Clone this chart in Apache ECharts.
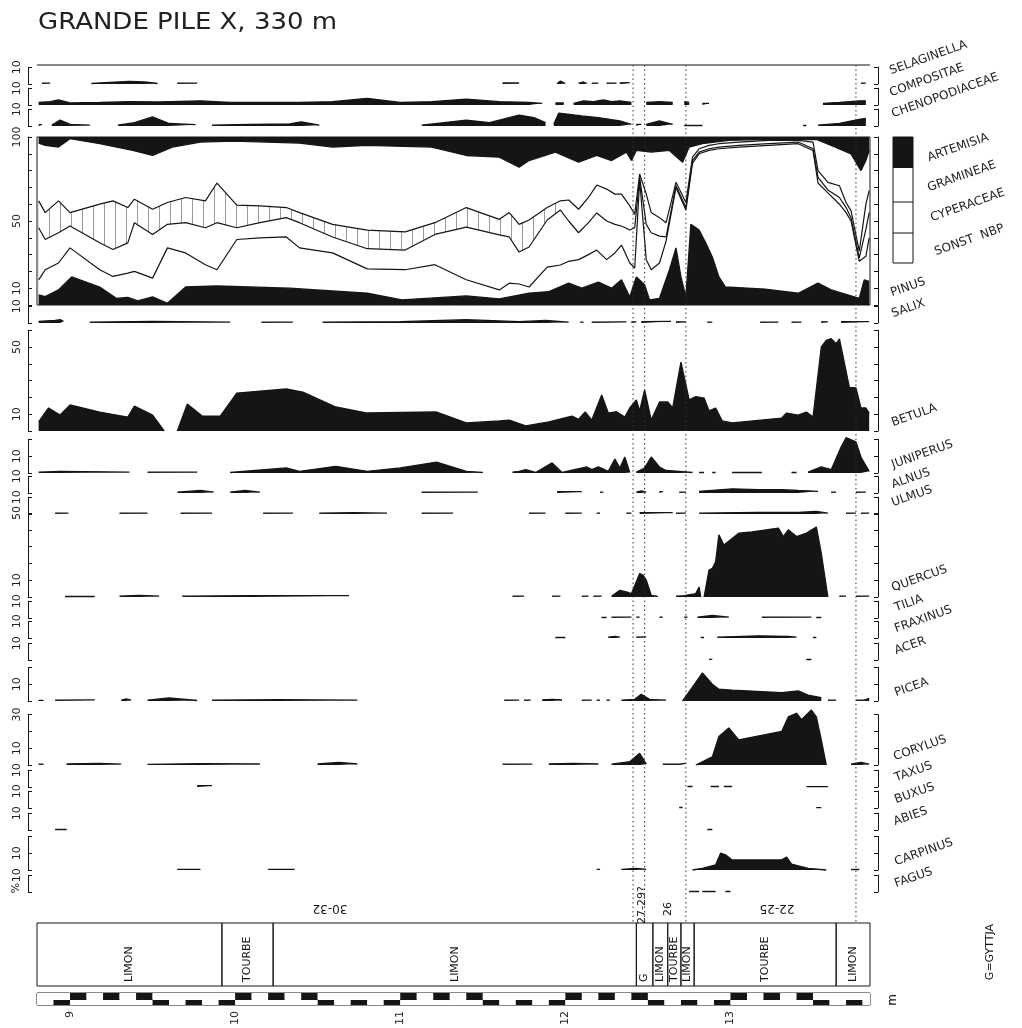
<!DOCTYPE html>
<html><head><meta charset="utf-8">
<script src="https://cdn.jsdelivr.net/npm/echarts@6/dist/echarts.min.js"></script>
<style>html,body{margin:0;padding:0;background:#fff}#c{width:1022px;height:1028px}</style>
</head><body><div id="c"></div>
<script>
// ---------------- DATA (depth in m, value in %) ----------------
const selaginella = [[8.83,0.5],[8.88,0.5],null,[9.13,0.3],[9.24,1.0],[9.36,1.5],[9.45,1.2],[9.53,0.3],null,[9.65,0.5],[9.77,0.5],null,[11.62,0.6],[11.72,0.6],null,[11.95,0.3],[11.97,1.8],[12.00,0.3],null,[12.08,0.3],[12.11,1.2],[12.13,0.3],null,[12.16,0.5],[12.20,0.5],null,[12.25,0.5],[12.31,0.5],null,[12.33,0.6],[12.39,0.8],null,[13.79,0.5],[13.82,0.5]];
const compositae = [[8.81,1.5],[8.88,2],[8.93,3],[9.00,1.2],[9.18,1.5],[9.36,2],[9.54,1.8],[9.79,2.5],[9.97,1.5],[10.39,1.5],[10.59,2],[10.80,4],[11.00,1.5],[11.19,2],[11.40,3.5],[11.60,2],[11.78,1.5],[11.86,1],null,[11.94,1.2],[11.99,1.2],null,[12.05,1],[12.11,2.5],[12.17,2],[12.23,3],[12.28,2],[12.33,2.5],[12.40,1.5],null,[12.49,1.5],[12.57,2],[12.65,1.5],null,[12.72,2],[12.75,1.5],null,[12.83,1],[12.87,1],null,[13.56,1],[13.66,1.5],[13.72,2],[13.78,2.5],[13.82,2.5]];
const chenopodiaceae = [[8.81,0.8],[8.83,0.8],null,[8.89,0.5],[8.94,3.5],[9.00,1],[9.12,0.5],null,[9.29,0.5],[9.39,2],[9.50,5.4],[9.60,1.5],[9.76,0.8],null,[9.86,0.5],[10.09,1],[10.33,1.2],[10.40,2.5],[10.51,0.5],null,[11.13,0.5],[11.40,3.5],[11.54,2],[11.66,5],[11.72,6.5],[11.81,5],[11.88,2],null,[11.93,1],[11.96,7.7],[12.10,6],[12.20,5],[12.33,3],[12.40,1],null,[12.43,1],[12.46,1],null,[12.49,1],[12.57,3],[12.65,1],null,[12.72,0.3],[12.83,0.3],null,[13.44,0.3],[13.46,0.3],null,[13.53,0.5],[13.66,1.5],[13.78,4],[13.82,4.5]];

// main NBP diagram: shared depths for the three boundary curves
const nbpDepth = [8.81,8.85,8.93,9.00,9.18,9.26,9.35,9.39,9.50,9.59,9.70,9.82,9.89,10.01,10.15,10.31,10.39,10.59,10.80,11.03,11.21,11.40,11.60,11.66,11.72,11.78,11.89,11.97,12.02,12.08,12.14,12.19,12.25,12.30,12.34,12.39,12.42,12.45,12.49,12.52,12.57,12.61,12.67,12.73,12.77,12.81,12.87,12.93,13.05,13.23,13.41,13.50,13.53,13.59,13.66,13.70,13.73,13.78,13.82,13.84];
const gramineaeLower = [62,55,62,55,60,62,58,63,57,61,64,62,72.6,59.5,59,58,55,48,44.6,43.5,49,58,51,55,48,50.6,58,62,62.5,57,64,71.4,69,66,66,59,54,78,66,55,52,49,73,61,88,93,95,96,97,98,98,97,80,73,71,61,56,32,60,68];
const cyperaceaeLower = [46,39,43,47,37,33,37,49,42,48,49,46,49,46,49,52,49,40.5,33.5,32.7,42,46.4,41.7,40.5,31.5,34.5,50.6,56.5,50,43,49,54.8,50,48,47,44.6,46,76,48,43,41,40.5,71,58,86,91,93,94,95,96,97,93,76,68.5,64,58,52,28,45,55];
const sonstNbpLower = [15,21,25,34,21,17,19,20,16,34,31,24,21,39,40,40.5,34,31,21.5,21,24,15,9,13,12.5,10.7,22.6,23.8,26,27,30,32.7,27,31,35.7,25,22,74,27,21,25,38,70,56.5,84.5,90,92,93,94,95,96,92,72.6,66.7,60,55,50,26,29,40];
const artemisiaEdge = [[8.81,96.4],[8.85,95],[8.93,94],[9.00,99],[9.18,96],[9.38,92],[9.50,89],[9.62,94],[9.79,97],[9.99,97.6],[10.39,96.4],[10.59,94],[10.80,95],[11.19,94],[11.40,89],[11.60,88],[11.72,82],[11.78,86],[11.94,91],[12.08,85],[12.19,89],[12.28,86],[12.37,91],[12.40,86],[12.43,92],[12.52,91],[12.63,92],[12.71,85],[12.75,94],[12.83,96],[12.99,98],[13.17,98.5],[13.52,98.5],[13.61,95],[13.73,90],[13.79,80],[13.82,86],[13.84,92]];
const pinus = [[8.81,6],[8.85,5],[8.93,9],[9.01,16.7],[9.18,10.7],[9.28,4],[9.35,4.5],[9.41,2.4],[9.50,4.8],[9.59,1],[9.70,10.7],[9.89,11.3],[10.33,10],[10.80,7],[11.01,3],[11.40,5.4],[11.60,3.6],[11.78,7],[11.90,8],[12.02,13],[12.10,10],[12.20,13.7],[12.28,10],[12.34,15],[12.39,4.8],[12.43,16.7],[12.48,12],[12.51,3],[12.57,4],[12.63,20.8],[12.67,34],[12.70,16.7],[12.73,4.8],[12.76,48],[12.81,44.6],[12.85,37],[12.89,28.6],[12.93,16.7],[12.97,10.7],[13.21,9.5],[13.41,7],[13.53,13],[13.61,9],[13.78,4],[13.81,15],[13.84,14]];

const salix = [[8.81,1],[8.91,1.5],[8.94,2],[8.96,1],null,[9.12,0.5],[9.50,1],[9.97,0.5],null,[10.16,0.5],[10.35,0.5],null,[10.53,0.5],[11.00,0.8],[11.40,2],[11.72,0.8],[11.88,1.5],[12.02,0.5],null,[12.09,0.5],[12.11,0.5],null,[12.16,0.5],[12.37,0.7],null,[12.40,0.7],[12.43,0.7],null,[12.46,0.8],[12.64,1],null,[12.67,0.7],[12.73,0.7],null,[12.86,0.5],[12.89,0.5],null,[13.18,0.5],[13.29,0.5],null,[13.37,0.5],[13.43,0.5],null,[13.55,0.7],[13.59,0.7],null,[13.67,0.8],[13.84,0.8]];
const betula = [[8.81,5.4],[8.87,13.7],[8.94,9.5],[9.00,15.5],[9.18,11.3],[9.35,8.3],[9.39,14.9],[9.50,9.5],[9.57,0],null,[9.65,0],[9.71,16],[9.80,8.9],[9.91,8.9],[10.01,22.6],[10.31,25],[10.41,23.2],[10.61,14.3],[10.80,10.7],[11.22,11.3],[11.40,4.8],[11.60,6],[11.66,6.5],[11.76,3],[11.90,5.4],[12.04,8.9],[12.08,7],[12.12,11.3],[12.16,6.5],[12.22,21.4],[12.26,10.7],[12.31,11.5],[12.36,8.3],[12.39,13.7],[12.43,18.5],[12.45,12],[12.48,24.4],[12.52,6.5],[12.57,17.3],[12.62,17.3],[12.65,13.7],[12.70,41],[12.75,18.5],[12.79,20.5],[12.84,19.6],[12.87,12],[12.91,13.7],[12.95,6],[13.01,4.8],[13.31,7.7],[13.34,10.7],[13.41,9.5],[13.46,11.3],[13.50,8.3],[13.55,50],[13.58,54],[13.61,55],[13.64,52],[13.66,54.8],[13.72,26],[13.76,25.6],[13.79,13.7],[13.82,13.7],[13.84,10.7]];
const juniperus = [[8.81,0.5],[8.94,1],[9.36,0.5],null,[9.47,0.5],[9.77,0.5],null,[9.97,0.3],[10.31,3],[10.39,1],[10.61,4],[10.80,1],[11.00,3],[11.22,6.5],[11.40,1],[11.50,0.3],null,[11.68,0.5],[11.72,1],[11.76,2],[11.82,0.3],[11.92,6],[11.98,0.3],[12.13,3.6],[12.16,2],[12.20,3.6],[12.26,1],[12.30,8.3],[12.33,3],[12.36,9.5],[12.39,0.3],null,[12.43,0.5],[12.48,3],[12.52,9.5],[12.57,3.6],[12.61,1.5],[12.69,1],[12.77,0.3],null,[12.81,0.3],[12.84,0.3],null,[12.89,0.3],[12.91,0.3],null,[13.01,0.3],[13.19,0.3],null,[13.37,0.3],[13.40,0.3],null,[13.47,0.5],[13.55,3.6],[13.61,2],[13.67,15.5],[13.70,21],[13.76,18.5],[13.79,9.5],[13.84,1]];
const alnus = [[9.65,0.5],[9.79,1.5],[9.87,0.5],null,[9.97,0.5],[10.06,1.5],[10.15,0.5],null,[11.13,0.5],[11.47,0.5],null,[11.95,0.8],[12.10,0.8],null,[12.21,0.5],[12.23,0.5],null,[12.43,0.5],[12.46,1.2],[12.49,0.5],null,[12.57,0.8],[12.59,0.8],null,[12.69,0.5],[12.73,0.5],null,[12.81,1],[13.01,2.5],[13.17,2],[13.31,2],[13.41,1.5],[13.53,1],null,[13.61,0.5],[13.64,0.5],null,[13.76,0.5],[13.82,0.5]];
const ulmus = [[8.91,0.5],[8.99,0.5],null,[9.30,0.5],[9.47,0.5],null,[9.67,0.5],[9.86,0.5],null,[10.17,0.5],[10.35,0.5],null,[10.51,0.5],[10.72,0.8],[10.92,0.5],null,[11.13,0.5],[11.32,0.5],null,[11.78,0.5],[11.88,0.5],null,[12.00,0.5],[12.10,0.5],null,[12.19,0.5],[12.21,0.5],null,[12.37,0.5],[12.40,0.5],null,[12.45,0.8],[12.65,0.8],null,[12.67,0.5],[12.73,0.5],null,[12.81,0.5],[13.17,1],[13.41,1],[13.52,1.5],[13.59,0.5],null,[13.70,0.5],[13.76,0.5],null,[13.79,0.5],[13.84,0.5]];
const quercus = [[8.97,0.3],[9.15,0.3],null,[9.30,0.5],[9.42,1],[9.54,0.5],null,[9.68,0.5],[10.09,0.8],[10.69,0.8],null,[11.68,0.5],[11.75,0.5],null,[11.92,0.5],[11.97,0.5],null,[12.10,0.5],[12.14,0.5],null,[12.17,0.5],[12.22,0.5],null,[12.28,0.5],[12.33,4],[12.37,3],[12.40,2],[12.45,14],[12.47,13],[12.49,10],[12.52,1],[12.56,0.3],null,[12.67,0.5],[12.72,0.8],[12.79,2],[12.81,6],[12.82,0],null,[12.84,0],[12.87,16],[12.89,17],[12.91,21],[12.93,37],[12.96,31],[13.05,38],[13.13,38.7],[13.29,41],[13.32,36],[13.35,40],[13.40,36],[13.46,38],[13.52,41.7],[13.55,26],[13.59,0],null,[13.66,0.5],[13.70,0.5],null,[13.76,0.5],[13.84,0.5]];
const tilia = [[12.22,0.3],[12.25,0.3],null,[12.28,0.5],[12.40,0.5],null,[12.43,0.5],[12.45,0.5],null,[12.57,0.5],[12.59,0.5],null,[12.72,0.5],[12.74,0.5],null,[12.80,0.5],[12.89,1.5],[12.99,0.5],null,[13.19,0.5],[13.49,0.5],null,[13.52,0.3],[13.55,0.3]];
const fraxinus = [[11.94,0.3],[12.00,0.3],null,[12.26,0.5],[12.30,1],[12.33,0.5],null,[12.43,0.5],[12.49,0.7],null,[12.82,0.3],[12.84,0.3],null,[12.92,0.5],[13.17,1.3],[13.35,1],[13.40,0.5],null,[13.50,0.3],[13.52,0.3]];
const acer = [[12.87,0.4],[12.89,0.4],null,[13.46,0.3],[13.49,0.3]];
const picea = [[8.81,0.4],[8.84,0.4],null,[8.91,0.5],[9.15,0.7],null,[9.31,0.5],[9.34,1.2],[9.37,0.5],null,[9.47,0.5],[9.60,1.8],[9.77,0.3],null,[9.86,0.5],[10.27,0.8],[10.74,0.5],null,[11.63,0.5],[11.72,0.5],null,[11.75,0.5],[11.79,0.5],null,[11.86,0.6],[11.92,1],[11.98,0.6],null,[12.10,0.5],[12.16,0.5],null,[12.19,0.5],[12.21,0.5],null,[12.25,0.5],[12.27,0.5],null,[12.34,0.5],[12.42,1],[12.46,4],[12.51,1],[12.61,0.5],null,[12.71,0],[12.77,8.3],[12.83,16.7],[12.89,10],[12.93,7],[13.01,6.5],[13.31,5],[13.41,6],[13.47,3.5],[13.55,2],null,[13.59,0.5],[13.64,0.5],null,[13.76,0.5],[13.81,0.5],[13.82,1.5],[13.84,1.5]];
const corylus = [[8.81,0.5],[8.84,0.5],null,[8.98,0.6],[9.18,1],[9.31,0.5],null,[9.47,0.4],[9.79,0.8],[10.15,0.6],null,[10.50,0.6],[10.63,1.5],[10.74,0.6],null,[11.62,0.5],[11.80,0.5],null,[11.90,0.6],[12.05,1],[12.20,0.6],null,[12.28,0.5],[12.39,2],[12.45,7],[12.49,0.5],null,[12.59,0.5],[12.69,0.5],[12.73,1],null,[12.79,0],[12.89,4.8],[12.93,17],[12.99,22],[13.05,15],[13.31,20],[13.35,28.6],[13.40,30.8],[13.43,27],[13.49,32.7],[13.52,28.6],[13.55,15],[13.58,0],null,[13.73,0.5],[13.79,1.5],[13.84,0.5]];
const taxus = [[9.77,0.8],[9.86,0.8],null,[12.74,0.3],[12.77,0.3],null,[12.88,0.3],[12.93,0.3],null,[12.96,0.3],[13.01,0.3],null,[13.46,0.2],[13.59,0.2]];
const buxus = [[12.69,0.3],[12.71,0.3],null,[13.52,0.2],[13.55,0.2]];
const abies = [[8.91,0.3],[8.98,0.3],null,[12.86,0.3],[12.89,0.3]];
const carpinus = [[9.65,0.4],[9.79,0.4],null,[10.20,0.4],[10.36,0.4],null,[12.19,0.4],[12.21,0.4],null,[12.34,0.4],[12.43,1],[12.49,0.4],null,[12.77,0],[12.83,1],[12.91,3],[12.94,10],[12.97,9],[13.01,6],[13.31,6],[13.34,7.7],[13.37,3.5],[13.47,1],[13.58,0],null,[13.73,0.3],[13.78,0.3]];
const fagus = [[12.75,0.3],[12.81,0.3],null,[12.83,0.3],[12.91,0.3],null,[12.97,0.3],[13.00,0.3]];

// sample boundaries (dotted) and lithology
const sampleBreaks = [12.41, 12.48, 12.73, 13.76];
const lithoFrom = [8.8, 9.92, 10.23, 12.43, 12.53, 12.62, 12.70, 12.78, 13.64];
const lithoTo   = [9.92, 10.23, 12.43, 12.53, 12.62, 12.70, 12.78, 13.64, 13.845];
const lithoName = ['LIMON','TOURBE','LIMON','G','LIMON','TOURBE','LIMON','TOURBE','LIMON'];
const depthTicks = [9, 10, 11, 12, 13];

// ---------------- LAYOUT ----------------
const FONT = 'DejaVu Sans';
const INK = '#151515';
const PX = 1.68;               // px per percent
const LEFT = 37, WIDTH = 833;
const DMIN = 8.8, DMAX = 13.845;

const grids = [], xAxes = [], yAxes = [], series = [];

function toSeries(arr) {
  const out = []; let px = DMIN;
  arr.forEach(p => { if (p === null) out.push([px, '-']); else { out.push(p); px = p[0]; } });
  return out;
}
function zip(xs, ys) { return xs.map((x, i) => [x, ys[i]]); }

function addGrid(top, height, opts) {
  grids.push(Object.assign({left: LEFT, width: WIDTH, top, height, show: false}, opts || {}));
  const gi = grids.length - 1;
  xAxes.push({gridIndex: gi, type: 'value', min: DMIN, max: DMAX, show: false});
  return gi;
}
function addPanel(p) {
  const h = p.max * PX, top = p.base - h;
  const gi = addGrid(top, h, p.frame ? {show: true, borderColor: INK, borderWidth: 1, backgroundColor: 'transparent'} : null);
  const yi = yAxes.length;
  yAxes.push({gridIndex: gi, type: 'value', min: 0, max: p.max, interval: 10, position: 'left', offset: 9,
    axisLine: {show: true, lineStyle: {color: INK, width: 1}},
    axisTick: {show: true, inside: true, length: 4, lineStyle: {color: INK, width: 1}},
    axisLabel: {show: true, rotate: 90, margin: 5, fontSize: 11, fontFamily: FONT, color: '#222',
      formatter: v => (p.labels.indexOf(v) >= 0 ? String(v) : '')},
    splitLine: {show: false}});
  yAxes.push({gridIndex: gi, type: 'value', min: 0, max: p.max, interval: 10, position: 'right', offset: 8,
    axisLine: {show: true, lineStyle: {color: INK, width: 1}},
    axisTick: {show: true, inside: true, length: 4, lineStyle: {color: INK, width: 1}},
    axisLabel: {show: false}, splitLine: {show: false}});
  return {gi, yi};
}
function addLine(pan, data, extra) {
  series.push(Object.assign({
    type: 'line', xAxisIndex: pan.gi, yAxisIndex: pan.yi, data: toSeries(data),
    showSymbol: false, symbol: 'none', connectNulls: false, clip: false, silent: true, animation: false,
    lineStyle: {color: INK, width: 1.3}, areaStyle: {color: INK, opacity: 1}
  }, extra || {}));
}

// hatch pattern for the Cyperaceae band
const hc = document.createElement('canvas'); hc.width = 11; hc.height = 6;
const hx = hc.getContext('2d'); hx.fillStyle = '#fff'; hx.fillRect(0, 0, 11, 6);
hx.strokeStyle = '#9a9a9a'; hx.lineWidth = 1; hx.beginPath(); hx.moveTo(5.5, 0); hx.lineTo(5.5, 6); hx.stroke();

// small top panels
addLine(addPanel({base: 84, max: 10, labels: [10]}), selaginella);
addLine(addPanel({base: 105, max: 10, labels: [10]}), compositae);
addLine(addPanel({base: 126, max: 10, labels: [10]}), chenopodiaceae);

// main NBP / AP diagram
const M = addPanel({base: 305, max: 100, labels: [10, 50, 100], frame: true});
const hatchN = nbpDepth.filter(d => d <= 11.97).length;
addLine(M, zip(nbpDepth.slice(0, hatchN), gramineaeLower.slice(0, hatchN)), {lineStyle: {opacity: 0}, areaStyle: {color: {image: hc, repeat: 'repeat'}, opacity: 1}});
addLine(M, zip(nbpDepth.slice(0, hatchN), cyperaceaeLower.slice(0, hatchN)), {lineStyle: {opacity: 0}, areaStyle: {color: '#fff', opacity: 1}});
addLine(M, pinus);
addLine(M, zip(nbpDepth, sonstNbpLower), {areaStyle: null, lineStyle: {color: INK, width: 1.2}});
addLine(M, zip(nbpDepth, cyperaceaeLower), {areaStyle: null, lineStyle: {color: INK, width: 1.2}});
addLine(M, zip(nbpDepth, gramineaeLower), {areaStyle: null, lineStyle: {color: INK, width: 1.2}});
addLine(M, artemisiaEdge, {areaStyle: {color: INK, opacity: 1, origin: 'end'}});

// tree / shrub panels
const treePanels = [
  [salix, 323, 10, [10]], [betula, 431, 60, [10, 50]], [juniperus, 473, 20, [10]],
  [alnus, 493, 10, [10]], [ulmus, 514, 10, [10]], [quercus, 597, 50, [10, 50]],
  [tilia, 618, 10, [10]], [fraxinus, 638, 10, [10]], [acer, 660, 10, [10]],
  [picea, 701, 20, [10]], [corylus, 765, 30, [10, 30]], [taxus, 787, 10, [10]],
  [buxus, 808, 10, [10]], [abies, 830, 10, [10]], [carpinus, 870, 20, [10]], [fagus, 892, 10, [10]]
];
treePanels.forEach(t => addLine(addPanel({base: t[1], max: t[2], labels: t[3]}), t[0]));

// dotted sample boundaries overlay
const gOv = addGrid(65, 858);
const yOv = yAxes.length;
yAxes.push({gridIndex: gOv, type: 'value', min: 0, max: 1, show: false});
series.push({type: 'custom', xAxisIndex: gOv, yAxisIndex: yOv, data: sampleBreaks.map(d => [d, 0]),
  silent: true, animation: false, clip: false, z: 5,
  renderItem: (params, api) => {
    const a = api.coord([api.value(0), 1]), b = api.coord([api.value(0), 0]);
    return {type: 'line', shape: {x1: a[0], y1: a[1], x2: b[0], y2: b[1]}, style: {stroke: '#333', lineWidth: 1, lineDash: [1.5, 3]}};
  }});

// lithology column
const gL = addGrid(923, 63);
const yL = yAxes.length;
yAxes.push({gridIndex: gL, type: 'value', min: 0, max: 1, show: false});
series.push({type: 'custom', xAxisIndex: gL, yAxisIndex: yL, data: lithoFrom.map((f, i) => [f, lithoTo[i]]),
  silent: true, animation: false, clip: false,
  renderItem: (params, api) => {
    const s = api.coord([api.value(0), 1]), e = api.coord([api.value(1), 0]);
    return {type: 'group', children: [
      {type: 'rect', shape: {x: s[0], y: s[1], width: e[0] - s[0], height: e[1] - s[1]}, style: {fill: 'none', stroke: INK, lineWidth: 1}},
      {type: 'text', x: (s[0] + e[0]) / 2, y: e[1] - 4, rotation: Math.PI / 2,
       style: {text: lithoName[params.dataIndex], align: 'left', verticalAlign: 'middle', font: '11px "' + FONT + '"', fill: INK}}
    ]};
  }});

// scale bar (two rows, alternating tenths)
const W = '#ffffff', B = INK;
const gS1 = addGrid(993, 7, {show: true, borderColor: INK, borderWidth: 1, backgroundColor: '#fff'});
const gS2 = addGrid(1000, 7, {show: true, borderColor: INK, borderWidth: 1, backgroundColor: '#fff'});
xAxes[gS1] = {gridIndex: gS1, type: 'value', min: DMIN, max: DMAX, interval: 0.1, show: true,
  axisLine: {show: false}, axisTick: {show: false}, axisLabel: {show: false}, splitLine: {show: false},
  splitArea: {show: true, areaStyle: {color: [W, W, B, W, B, W, B, W, W, W]}}};
xAxes[gS2] = {gridIndex: gS2, type: 'value', min: DMIN, max: DMAX, interval: 0.1, show: true, position: 'bottom',
  axisLine: {show: false}, axisTick: {show: false}, splitLine: {show: false},
  axisLabel: {show: true, rotate: 90, margin: 6, fontSize: 11, fontFamily: FONT, color: '#222',
    formatter: v => { const r = Math.round(v); return (Math.abs(v - r) < 1e-6 && depthTicks.indexOf(r) >= 0) ? String(r) : ''; }},
  splitArea: {show: true, areaStyle: {color: [W, B, W, W, W, W, W, B, W, B]}}};
yAxes.push({gridIndex: gS1, type: 'value', show: false});
yAxes.push({gridIndex: gS2, type: 'value', show: false});

// ---------------- TEXT / DECOR ----------------
const F12 = '12px "' + FONT + '"', F11 = '11px "' + FONT + '"';
const taxonLabels = [
  ['SELAGINELLA', 892, 77], ['COMPOSITAE', 892, 99], ['CHENOPODIACEAE', 894, 120],
  ['ARTEMISIA', 930, 164], ['GRAMINEAE', 930, 194], ['CYPERACEAE', 933, 224], ['SONST  NBP', 937, 258],
  ['PINUS', 893, 299], ['SALIX', 894, 320], ['BETULA', 894, 429], ['JUNIPERUS', 894, 471],
  ['ALNUS', 894, 491], ['ULMUS', 894, 509], ['QUERCUS', 894, 594], ['TILIA', 897, 614],
  ['FRAXINUS', 897, 635], ['ACER', 897, 657], ['PICEA', 897, 699], ['CORYLUS', 896, 763],
  ['TAXUS', 897, 784], ['BUXUS', 897, 806], ['ABIES', 896, 828], ['CARPINUS', 897, 868], ['FAGUS', 897, 890]
];
const graphics = [
  {type: 'text', x: 38, y: 12, scaleX: 1.13, style: {text: 'GRANDE PILE X, 330 m', font: '23px "' + FONT + '"', fill: '#222', align: 'left', verticalAlign: 'top'}},
  {type: 'line', shape: {x1: LEFT, y1: 65, x2: LEFT + WIDTH, y2: 65}, style: {stroke: INK, lineWidth: 1.2}},
  {type: 'rect', shape: {x: 893, y: 137, width: 20, height: 31}, style: {fill: INK}},
  {type: 'rect', shape: {x: 893, y: 137, width: 20, height: 126}, style: {fill: 'none', stroke: INK, lineWidth: 1}},
  {type: 'line', shape: {x1: 893, y1: 202, x2: 913, y2: 202}, style: {stroke: INK, lineWidth: 1}},
  {type: 'line', shape: {x1: 893, y1: 233, x2: 913, y2: 233}, style: {stroke: INK, lineWidth: 1}},
  {type: 'text', x: 330, y: 908, rotation: Math.PI, style: {text: '30-32', font: F12, fill: INK, align: 'center', verticalAlign: 'middle'}},
  {type: 'text', x: 777, y: 908, rotation: Math.PI, style: {text: '22-25', font: F12, fill: INK, align: 'center', verticalAlign: 'middle'}},
  {type: 'text', x: 642, y: 905, rotation: Math.PI / 2, style: {text: '27-29?', font: F11, fill: INK, align: 'center', verticalAlign: 'middle'}},
  {type: 'text', x: 668, y: 909, rotation: Math.PI / 2, style: {text: '26', font: F11, fill: INK, align: 'center', verticalAlign: 'middle'}},
  {type: 'text', x: 893, y: 1000, rotation: Math.PI / 2, style: {text: 'm', font: F12, fill: INK, align: 'center', verticalAlign: 'middle'}},
  {type: 'text', x: 990, y: 952, rotation: Math.PI / 2, style: {text: 'G=GYTTJA', font: F11, fill: INK, align: 'center', verticalAlign: 'middle'}},
  {type: 'text', x: 16, y: 888, rotation: Math.PI / 2, style: {text: '%', font: F11, fill: INK, align: 'center', verticalAlign: 'middle'}}
];
taxonLabels.forEach(l => graphics.push({type: 'text', x: l[1], y: l[2], rotation: 0.34,
  style: {text: l[0], font: F12, fill: '#222', align: 'left', verticalAlign: 'bottom'}}));

const chart = echarts.init(document.getElementById('c'), null, {renderer: 'canvas'});
chart.setOption({
  animation: false, backgroundColor: '#ffffff', textStyle: {fontFamily: FONT},
  grid: grids, xAxis: xAxes, yAxis: yAxes, series: series, graphic: graphics
});
</script></body></html>
